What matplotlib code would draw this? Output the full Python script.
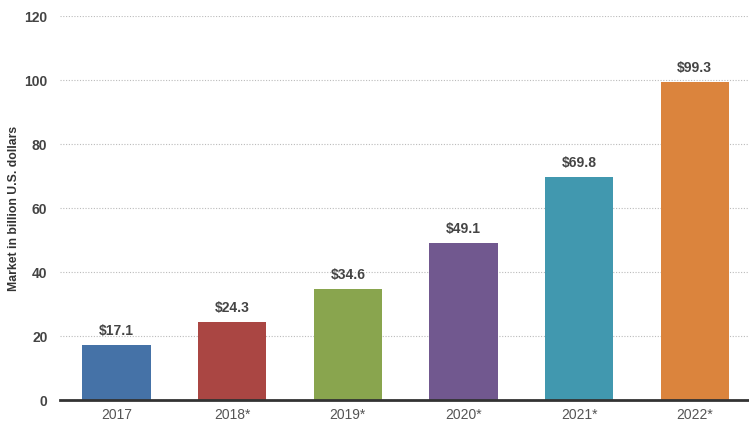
import matplotlib.pyplot as plt
import numpy as np

plt.rcParams['font.family'] = ['Liberation Sans', 'DejaVu Sans']

# data to plot
years = ['2017', '2018*', '2019*', '2020*', '2021*', '2022*']
market = [17.1, 24.3, 34.6, 49.1, 69.8, 99.3]
bar_colors = ['#4572a7', '#aa4643', '#89a54e', '#71588f', '#4198af', '#db843d']

fig = plt.figure(figsize=(7.49, 4.22), dpi=100)
ax = fig.add_axes([0.080, 0.052, 0.92, 0.910])

index = np.arange(len(years))
bars = ax.bar(index, market, 0.59, color=bar_colors, zorder=2)

for rect, val in zip(bars, market):
    ax.annotate('$' + str(val), (rect.get_x() + rect.get_width() / 2, val),
                xytext=(0, 5), textcoords='offset points',
                ha='center', va='bottom', fontsize=10, fontweight='bold', color='#444444')

ax.set_xlim(-0.49, 5.47)
ax.set_ylim(0, 120)
ax.set_yticks(range(0, 121, 20))
ax.set_xticks(index)
ax.set_xticklabels(years)

ax.grid(axis='y', linestyle=(0, (1, 1.5)), color='#bbbbbb', linewidth=0.8, zorder=0)
for s in ['top', 'right', 'left']:
    ax.spines[s].set_visible(False)
ax.spines['bottom'].set_color('#333333')
ax.spines['bottom'].set_linewidth(2)
ax.spines['bottom'].set_zorder(3)
ax.tick_params(axis='both', length=0)
ax.tick_params(axis='x', labelsize=10, colors='#555555', pad=6)
ax.tick_params(axis='y', labelsize=10, colors='#444444', pad=9)
for lbl in ax.get_yticklabels():
    lbl.set_fontweight('bold')

ax.set_ylabel('Market in billion U.S. dollars', fontsize=8.8, fontweight='bold',
              color='#333333')
ax.yaxis.set_label_coords(-0.058, 0.5)

plt.savefig('out.png', dpi=100)
